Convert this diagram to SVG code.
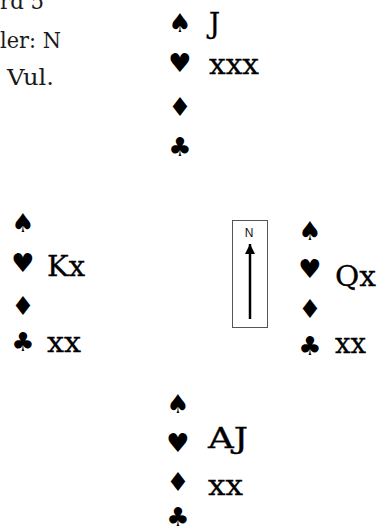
<svg xmlns="http://www.w3.org/2000/svg" width="377" height="527" viewBox="0 0 377 527">
<defs>
<style>
.info{font-family:"DejaVu Serif",serif;font-size:22.5px;fill:#1a1a1a;}
.suit{font-family:"DejaVu Sans",sans-serif;font-size:26px;fill:#000;text-anchor:middle;}
.card{font-family:"DejaVu Serif",serif;font-size:27.5px;fill:#000;stroke:#000;stroke-width:0.3px;}
</style>
<marker id="ah" viewBox="0 0 10 10" refX="10" refY="5" markerWidth="10" markerHeight="12" markerUnits="userSpaceOnUse" orient="auto">
<path d="M0,0 L10,5 L0,10 Z" fill="#000"/>
</marker>
</defs>
<rect width="377" height="527" fill="#fff"/>
<g id="info">
<text class="info" x="0" y="9" textLength="44" lengthAdjust="spacingAndGlyphs">rd 5</text>
<text class="info" x="0" y="48" textLength="61" lengthAdjust="spacingAndGlyphs">ler: N</text>
<text class="info" x="7" y="85" textLength="47" lengthAdjust="spacingAndGlyphs">Vul.</text>
</g>
<g id="north">
<text class="suit" x="180" y="32">♠</text>
<text class="suit" x="180" y="72">♥</text>
<text class="suit" x="180" y="116">♦</text>
<text class="suit" x="180" y="156">♣</text>
<text class="card" x="209" y="33">J</text>
<text class="card" x="209" y="74" textLength="50" lengthAdjust="spacingAndGlyphs">xxx</text>
</g>
<g id="west">
<text class="suit" x="23" y="232">♠</text>
<text class="suit" x="23" y="272">♥</text>
<text class="suit" x="23" y="315">♦</text>
<text class="suit" x="23" y="351">♣</text>
<text class="card" x="47" y="276" textLength="38" lengthAdjust="spacingAndGlyphs">Kx</text>
<text class="card" x="47" y="352" textLength="34" lengthAdjust="spacingAndGlyphs">xx</text>
</g>
<g id="compass">
<rect x="232.5" y="220.5" width="35" height="107" fill="none" stroke="#555" stroke-width="1"/>
<text x="249" y="237" font-family="Liberation Sans, sans-serif" font-size="12" text-anchor="middle" fill="#111">N</text>
</g>
<g id="connectors">
<line x1="250" y1="319" x2="250" y2="244" stroke="#000" stroke-width="2.5" marker-end="url(#ah)"/>
</g>
<g id="east">
<text class="suit" x="310" y="240">♠</text>
<text class="suit" x="310" y="278">♥</text>
<text class="suit" x="310" y="318">♦</text>
<text class="suit" x="310" y="355">♣</text>
<text class="card" x="335" y="286" textLength="41" lengthAdjust="spacingAndGlyphs">Qx</text>
<text class="card" x="335" y="353" textLength="31" lengthAdjust="spacingAndGlyphs">xx</text>
</g>
<g id="south">
<text class="suit" x="178" y="413">♠</text>
<text class="suit" x="178" y="452">♥</text>
<text class="suit" x="178" y="491">♦</text>
<text class="suit" x="178" y="526">♣</text>
<text class="card" x="208" y="448" textLength="40" lengthAdjust="spacingAndGlyphs">AJ</text>
<text class="card" x="208" y="495" textLength="35" lengthAdjust="spacingAndGlyphs">xx</text>
</g>
</svg>
